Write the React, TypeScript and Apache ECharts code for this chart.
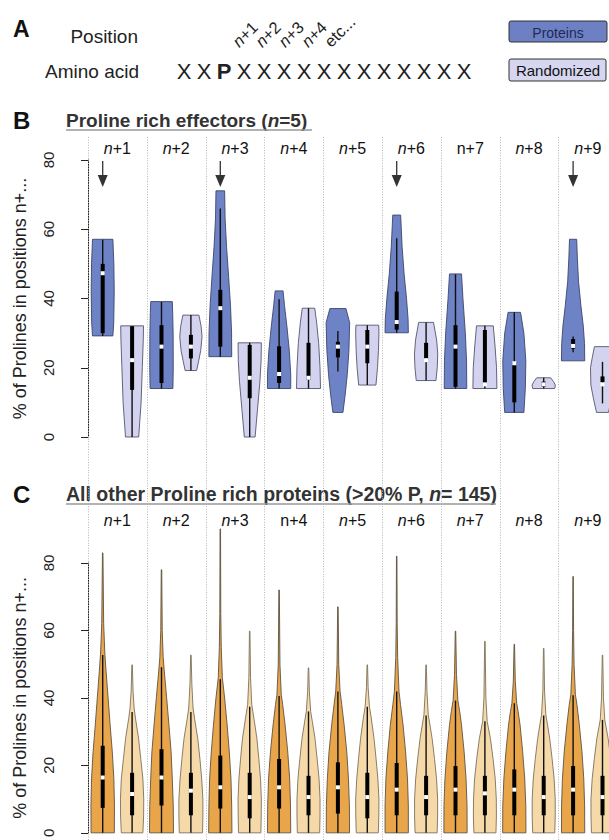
import React, { useEffect, useRef } from "react";
import * as echarts from "echarts";

const FONT = "'Liberation Sans', Arial, Helvetica, sans-serif";

// ---------- data ----------
const positions = ["n+1", "n+2", "n+3", "n+4", "n+5", "n+6", "n+7", "n+8", "n+9"];
const bUprightLabels = [6]; // "n+7" printed upright in panel B
const cUprightLabels = [3]; // "n+4" printed upright in panel C
const bArrowPositions = [0, 2, 5, 8];
const yTicks = [0, 20, 40, 60, 80];
const aminoAcids = "XXPXXXXXXXXXXXX";
const positionLabels = ["n+1", "n+2", "n+3", "n+4", "etc..."];

// box summaries: [whisker low, q1, median, q3, whisker high]
const bProteinBox = [
  [29.2, 30, 47.3, 50, 57],
  [14, 15.6, 26.1, 32.3, 39],
  [23.2, 26.1, 37.2, 42.5, 66],
  [14, 15.6, 18.2, 26.2, 39.8],
  [18.9, 23, 26.1, 27.5, 30.6],
  [30.1, 31, 33.2, 42, 57.4],
  [14, 14.5, 26.1, 32.3, 47],
  [7.1, 10, 21.3, 21.6, 36],
  [24.5, 25.5, 26.3, 28.3, 29],
];
const bRandomBox = [
  [0, 13.6, 22.2, 32, 32],
  [19.2, 22.7, 26.1, 29.5, 35.2],
  [0, 11.2, 17.1, 26.6, 27.2],
  [14, 16.5, 17.1, 27.2, 37.2],
  [15, 21.3, 26.1, 30.9, 32.3],
  [16.3, 22.4, 22.2, 27.2, 33.1],
  [14, 15.4, 15.2, 30.9, 32.1],
  [14, 14.5, 15.2, 16, 17.1],
  [9.7, 15.8, 15.2, 17.5, 21.7],
];
// violin outlines: [value, relative half width]
const bProteinProfile = [
  [[29.2, 0.85], [33, 0.92], [42, 0.96], [50, 0.93], [57.1, 0.85]],
  [[14, 0.95], [20, 0.98], [30, 0.97], [36, 0.93], [39.1, 0.9]],
  [[23.2, 0.95], [30, 0.94], [38, 0.85], [46, 0.7], [55, 0.52], [63, 0.4], [71.1, 0.36]],
  [[14, 0.97], [18, 0.97], [25, 0.85], [32, 0.65], [38, 0.45], [42.2, 0.33]],
  [[7.1, 0.42], [12, 0.6], [18, 0.78], [25, 0.92], [33, 0.98], [37.1, 0.67]],
  [[30.1, 0.97], [34, 0.95], [40, 0.82], [47, 0.62], [55, 0.45], [64.1, 0.33]],
  [[14, 0.94], [22, 0.92], [30, 0.82], [40, 0.62], [47.1, 0.5]],
  [[7.1, 0.8], [14, 0.92], [22, 0.96], [30, 0.8], [36, 0.52]],
  [[22, 0.97], [27, 0.95], [32, 0.85], [38, 0.65], [45, 0.45], [52, 0.35], [57.1, 0.3]],
];
const bRandomProfile = [
  [[0, 0.55], [10, 0.75], [20, 0.85], [28, 0.93], [32.1, 0.95]],
  [[19.2, 0.48], [22, 0.65], [25, 0.82], [29, 0.93], [32, 0.85], [35.2, 0.67]],
  [[0, 0.45], [8, 0.65], [16, 0.85], [22, 0.95], [27.2, 0.97]],
  [[14, 1.0], [20, 0.96], [27, 0.85], [33, 0.68], [37.2, 0.52]],
  [[15, 0.72], [20, 0.85], [25, 0.93], [30, 0.97], [32.3, 0.95]],
  [[16.3, 0.82], [20, 0.93], [24, 0.97], [28, 0.88], [33.1, 0.62]],
  [[14, 1.0], [20, 0.97], [26, 0.85], [32.1, 0.7]],
  [[14, 0.92], [15, 0.97], [16, 0.82], [17.1, 0.58]],
  [[7.1, 0.5], [11, 0.75], [15, 0.97], [20, 1.0], [23, 0.85], [26.1, 0.67]],
];

const cProteinBox = [
  [0, 7.4, 16.4, 25.8, 52.7],
  [0, 8.1, 16.4, 24.8, 49.1],
  [0, 7.2, 13.5, 22.9, 45.5],
  [0, 7.2, 13.5, 21.9, 40.6],
  [0, 5.7, 13.5, 20.9, 41.9],
  [0, 5.2, 12.8, 20.7, 41.9],
  [0, 5.2, 12.8, 19.8, 39.2],
  [0, 5.2, 12.8, 18.8, 38.4],
  [0, 5.2, 12.8, 19.8, 40.8],
];
const cRandomBox = [
  [0, 5.2, 11.5, 17.8, 35.8],
  [0, 5.2, 12.5, 17.8, 35.8],
  [0, 4.3, 10.6, 17.8, 37.4],
  [0, 5.2, 10.6, 16.9, 36],
  [0, 4.3, 10.6, 17.8, 37.4],
  [0, 5.2, 10.6, 16.9, 34.8],
  [0, 5.2, 11.7, 16.9, 33.1],
  [0, 5.2, 10.6, 16.9, 34.8],
  [0, 5.2, 10.6, 16.9, 33.5],
];
const cProteinProfile = [
  [[0, 0.97], [8, 0.98], [16, 0.93], [24, 0.8], [32, 0.62], [40, 0.45], [48, 0.28], [53, 0.18], [62, 0.08], [83, 0.02]],
  [[0, 1.0], [8, 0.98], [16, 0.9], [24, 0.8], [32, 0.62], [40, 0.43], [48, 0.23], [52, 0.14], [60, 0.06], [78, 0.02]],
  [[0, 0.97], [8, 0.95], [16, 0.89], [24, 0.75], [32, 0.57], [40, 0.36], [46, 0.17], [55, 0.08], [65, 0.04], [90.1, 0.02]],
  [[0, 0.97], [8, 0.95], [16, 0.88], [24, 0.72], [32, 0.5], [38, 0.3], [41, 0.18], [50, 0.07], [72, 0.02]],
  [[0, 0.97], [8, 0.96], [16, 0.88], [24, 0.74], [32, 0.52], [38, 0.32], [42, 0.18], [50, 0.07], [67, 0.02]],
  [[0, 0.97], [8, 0.97], [16, 0.9], [24, 0.74], [32, 0.53], [38, 0.32], [42, 0.19], [52, 0.08], [62, 0.04], [82, 0.02]],
  [[0, 0.97], [8, 0.96], [16, 0.88], [24, 0.72], [32, 0.5], [36, 0.35], [39.2, 0.2], [47, 0.08], [59.8, 0.02]],
  [[0, 0.97], [8, 0.96], [16, 0.87], [24, 0.7], [32, 0.48], [36, 0.32], [38.4, 0.2], [45, 0.08], [55.9, 0.02]],
  [[0, 0.97], [8, 0.96], [16, 0.89], [24, 0.74], [32, 0.52], [38, 0.32], [41, 0.19], [50, 0.08], [60, 0.04], [76, 0.02]],
];
const cRandomProfile = [
  [[0, 0.9], [5, 0.96], [10, 0.97], [16, 0.9], [22, 0.72], [28, 0.54], [34, 0.28], [37, 0.17], [42, 0.08], [49.8, 0.02]],
  [[0, 0.97], [5, 1.0], [10, 1.0], [16, 0.9], [22, 0.75], [28, 0.57], [34, 0.3], [37, 0.18], [44, 0.08], [52.7, 0.02]],
  [[0, 0.93], [5, 0.96], [10, 0.97], [16, 0.9], [22, 0.76], [28, 0.6], [34, 0.35], [38, 0.17], [46, 0.07], [59.8, 0.02]],
  [[0, 0.93], [5, 0.96], [10, 0.96], [16, 0.88], [22, 0.72], [28, 0.54], [33, 0.32], [36, 0.18], [42, 0.07], [48.9, 0.02]],
  [[0, 0.92], [5, 0.96], [10, 0.97], [16, 0.88], [22, 0.73], [28, 0.56], [34, 0.33], [37.4, 0.18], [43, 0.07], [49.8, 0.02]],
  [[0, 0.92], [5, 0.96], [10, 0.96], [16, 0.87], [22, 0.7], [28, 0.5], [32, 0.32], [35, 0.18], [42, 0.07], [49.8, 0.02]],
  [[0, 0.92], [5, 0.96], [10, 0.95], [16, 0.86], [22, 0.68], [28, 0.46], [33, 0.19], [40, 0.08], [56.8, 0.02]],
  [[0, 0.92], [5, 0.96], [10, 0.96], [16, 0.87], [22, 0.7], [28, 0.5], [32, 0.32], [35, 0.18], [42, 0.07], [54.7, 0.02]],
  [[0, 0.92], [5, 0.96], [10, 0.96], [16, 0.86], [22, 0.68], [28, 0.47], [33.5, 0.19], [40, 0.08], [52.7, 0.02]],
];

// ---------- layout / style constants ----------
const GROUP_PX = 58.8;
const AXIS_LEFT = 71;
const FIRST_SEP = 88;
const X_MIN = -(FIRST_SEP - AXIS_LEFT) / GROUP_PX;
const X_MAX = X_MIN + (609 - AXIS_LEFT) / GROUP_PX;
const HALF = 12 / GROUP_PX;
const PROT_OFF = 0.25;
const RAND_OFF = 0.75;

function violinSeries(idx: number, profiles: number[][][], boxes: number[][], offset: number, fill: string, stroke: string) {
  return {
    type: "custom",
    xAxisIndex: idx,
    yAxisIndex: idx,
    clip: false,
    silent: true,
    z: 3,
    data: profiles.map((_, i) => [i, 0]),
    renderItem: (params: any, api: any) => {
      const i = api.value(0);
      const cx = i + offset;
      const prof = profiles[i];
      const pts: number[][] = [];
      for (const [v, d] of prof) pts.push(api.coord([cx - d * HALF, v]));
      for (let k = prof.length - 1; k >= 0; k--) {
        const [v, d] = prof[k];
        pts.push(api.coord([cx + d * HALF, v]));
      }
      const [lo, q1, med, q3, hi] = boxes[i];
      const base = api.coord([cx, lo]);
      const x = base[0];
      const yLo = base[1];
      const yHi = api.coord([cx, hi])[1];
      const yQ1 = api.coord([cx, q1])[1];
      const yQ3 = api.coord([cx, q3])[1];
      const yMed = api.coord([cx, med])[1];
      return {
        type: "group",
        children: [
          { type: "polygon", shape: { points: pts }, style: { fill, stroke, lineWidth: 0.9 } },
          { type: "line", shape: { x1: x, y1: yLo, x2: x, y2: yHi }, style: { stroke: "#111", lineWidth: 1.4 } },
          { type: "rect", shape: { x: x - 2, y: yQ3, width: 4, height: Math.max(yQ1 - yQ3, 1) }, style: { fill: "#000" } },
          { type: "rect", shape: { x: x - 2, y: yMed - 2, width: 4, height: 4 }, style: { fill: "#fff" } },
        ],
      };
    },
  };
}

function separatorSeries() {
  return {
    type: "custom",
    xAxisIndex: 0,
    yAxisIndex: 0,
    clip: false,
    silent: true,
    z: 1,
    data: [0, 1, 2, 3, 4, 5, 6, 7, 8, 9].map((i) => [i, 0]),
    renderItem: (params: any, api: any) => {
      const x = Math.round(api.coord([api.value(0), 0])[0]) + 0.5;
      return {
        type: "line",
        shape: { x1: x, y1: 137, x2: x, y2: 840 },
        style: { stroke: "#b5b5b5", lineWidth: 1, lineDash: [1, 1.6] },
      };
    },
  };
}

function labelSeries(idx: number, upright: number[], y: number) {
  return {
    type: "custom",
    xAxisIndex: idx,
    yAxisIndex: idx,
    clip: false,
    silent: true,
    z: 4,
    data: positions.map((_, i) => [i, 0]),
    renderItem: (params: any, api: any) => {
      const i = api.value(0);
      const x = api.coord([i + 0.5, 0])[0];
      const lab = positions[i];
      const text = upright.includes(i) ? `{u|${lab}}` : `{i|${lab.slice(0, 1)}}{u|${lab.slice(1)}}`;
      return {
        type: "text",
        x,
        y,
        style: {
          text,
          align: "center",
          verticalAlign: "middle",
          fill: "#111",
          rich: {
            i: { fontStyle: "italic", fontSize: 16, fontFamily: FONT, fill: "#111" },
            u: { fontSize: 16, fontFamily: FONT, fill: "#111" },
          },
        },
      };
    },
  };
}

function arrowSeries() {
  return {
    type: "custom",
    xAxisIndex: 0,
    yAxisIndex: 0,
    clip: false,
    silent: true,
    z: 4,
    data: bArrowPositions.map((p) => [p, 80]),
    renderItem: (params: any, api: any) => {
      const p = api.coord([api.value(0) + PROT_OFF, api.value(1)]);
      const x = p[0];
      const y0 = p[1] + 1;
      return {
        type: "group",
        children: [
          { type: "line", shape: { x1: x, y1: y0, x2: x, y2: y0 + 17 }, style: { stroke: "#333", lineWidth: 1.3 } },
          { type: "polygon", shape: { points: [[x - 5, y0 + 14], [x + 5, y0 + 14], [x, y0 + 26]] }, style: { fill: "#333" } },
        ],
      };
    },
  };
}

function yAxis(idx: number) {
  return {
    type: "value",
    gridIndex: idx,
    min: 0,
    max: 80,
    interval: 20,
    axisLine: { show: true, lineStyle: { color: "#222", width: 1 } },
    axisTick: { show: true, length: 7, lineStyle: { color: "#222", width: 1 } },
    axisLabel: { rotate: 90, fontSize: 15, color: "#222", fontFamily: FONT, margin: 15, customValues: yTicks },
    splitLine: { show: false },
    name: "% of Prolines in positions n+...",
    nameLocation: "middle",
    nameGap: 42,
    nameRotate: 90,
    nameTextStyle: { fontSize: 18, color: "#222", fontFamily: FONT },
  };
}

function xAxis(idx: number) {
  return { type: "value", gridIndex: idx, min: X_MIN, max: X_MAX, show: false };
}

function buildGraphics() {
  const g: any[] = [];
  g.push({ type: "text", x: 13, y: 29, style: { text: "A", font: `bold 23px ${FONT}`, fill: "#111", verticalAlign: "middle" } });
  g.push({ type: "text", x: 138, y: 36, style: { text: "Position", font: `19px ${FONT}`, fill: "#222", align: "right", verticalAlign: "middle" } });
  g.push({ type: "text", x: 139, y: 71, style: { text: "Amino acid", font: `19px ${FONT}`, fill: "#222", align: "right", verticalAlign: "middle" } });
  aminoAcids.split("").forEach((ch, k) => {
    g.push({
      type: "text",
      x: 184 + k * 20,
      y: 71,
      style: { text: ch, font: `${ch === "P" ? "bold " : ""}22px ${FONT}`, fill: "#222", align: "center", verticalAlign: "middle" },
    });
  });
  positionLabels.forEach((lab, k) => {
    const isN = lab.startsWith("n");
    g.push({
      type: "text",
      x: 241 + k * 23,
      y: 50,
      rotation: Math.PI / 4,
      style: {
        text: isN ? `{i|n}{u|${lab.slice(1)}}` : `{u|${lab}}`,
        align: "left",
        verticalAlign: "bottom",
        rich: {
          i: { fontStyle: "italic", fontSize: 16.5, fontFamily: FONT, fill: "#222" },
          u: { fontSize: 16.5, fontFamily: FONT, fill: "#222" },
        },
      },
    });
  });
  // legend
  g.push({ type: "rect", shape: { x: 509, y: 21, width: 98, height: 21, r: 2 }, style: { fill: "#6d80c4", stroke: "#333", lineWidth: 1 } });
  g.push({ type: "text", x: 558, y: 33, style: { text: "Proteins", font: `14px ${FONT}`, fill: "#1f2a55", align: "center", verticalAlign: "middle" } });
  g.push({ type: "rect", shape: { x: 509, y: 59, width: 97, height: 22, r: 2 }, style: { fill: "#d6d6f0", stroke: "#333", lineWidth: 1 } });
  g.push({ type: "text", x: 558, y: 70.5, style: { text: "Randomized", font: `15px ${FONT}`, fill: "#111", align: "center", verticalAlign: "middle" } });

  // panel titles
  const titles = [
    { letter: "B", y: 120, rich: "{b|Proline rich effectors (}{bi|n}{b|=5)}", ul: 312, size: 19 },
    { letter: "C", y: 494, rich: "{b|All other Proline rich proteins (>20% P, }{bi|n}{b|= 145)}", ul: 496, size: 19.5 },
  ];
  titles.forEach((t) => {
    g.push({ type: "text", x: 13, y: t.y, style: { text: t.letter, font: `bold 24px ${FONT}`, fill: "#111", verticalAlign: "middle" } });
    g.push({
      type: "text",
      x: 66,
      y: t.y,
      style: {
        text: t.rich,
        verticalAlign: "middle",
        rich: {
          b: { fontWeight: "bold", fontSize: t.size, fontFamily: FONT, fill: "#333" },
          bi: { fontWeight: "bold", fontStyle: "italic", fontSize: t.size, fontFamily: FONT, fill: "#333" },
        },
      },
    });
    g.push({ type: "line", shape: { x1: 66, y1: t.y + 10, x2: t.ul, y2: t.y + 10 }, style: { stroke: "#999", lineWidth: 1.5 } });
  });
  return g;
}

export default function App() {
  const ref = useRef<HTMLDivElement>(null);
  useEffect(() => {
    if (!ref.current) return;
    const chart = echarts.init(ref.current, null, { renderer: "svg" });
    chart.setOption({
      animation: false,
      backgroundColor: "#fff",
      textStyle: { fontFamily: FONT },
      grid: [
        { left: AXIS_LEFT, right: 0, top: 160, height: 277 },
        { left: AXIS_LEFT, right: 0, top: 563, height: 275 },
      ],
      xAxis: [xAxis(0), xAxis(1)],
      yAxis: [yAxis(0), yAxis(1)],
      graphic: buildGraphics(),
      series: [
        separatorSeries(),
        labelSeries(0, bUprightLabels, 148),
        labelSeries(1, cUprightLabels, 520),
        arrowSeries(),
        violinSeries(0, bProteinProfile, bProteinBox, PROT_OFF, "#6e82c6", "#3c466a"),
        violinSeries(0, bRandomProfile, bRandomBox, RAND_OFF, "#d3d3ef", "#55556e"),
        violinSeries(1, cProteinProfile, cProteinBox, PROT_OFF, "#e8a54a", "#5e5240"),
        violinSeries(1, cRandomProfile, cRandomBox, RAND_OFF, "#f6d9a8", "#7d705a"),
      ],
    });
    return () => chart.dispose();
  }, []);
  return <div ref={ref} style={{ position: "absolute", left: 0, top: 0, width: 609, height: 840 }} />;
}
